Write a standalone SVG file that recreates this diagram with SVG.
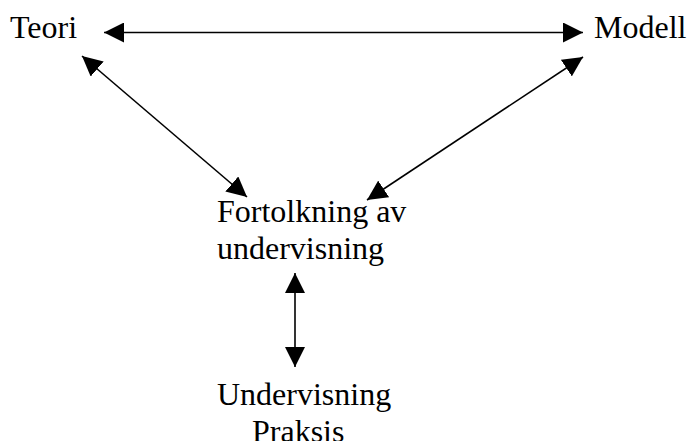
<svg xmlns="http://www.w3.org/2000/svg" width="688" height="441" viewBox="0 0 688 441">
<defs>
<marker id="ah" viewBox="0 0 20 20" refX="20" refY="10" markerWidth="20" markerHeight="20" markerUnits="userSpaceOnUse" orient="auto-start-reverse">
<path d="M0,0 L20,10 L0,20 z" fill="#000"/>
</marker>
<style>
text{font-family:"Liberation Serif","Times New Roman",serif;font-size:32px;fill:#000}
.c{stroke:#000;stroke-width:1.6;fill:none;marker-start:url(#ah);marker-end:url(#ah)}
</style>
</defs>
<rect width="688" height="441" fill="#fff"/>
<g id="teori"><text x="10" y="38">Teori</text></g>
<g id="modell"><text x="594" y="38">Modell</text></g>
<g id="fortolkning"><text x="217" y="222">Fortolkning av</text><text x="217" y="259">undervisning</text></g>
<g id="undervisning"><text x="217" y="405">Undervisning</text><text x="252" y="442">Praksis</text></g>
<g id="connectors">
<line class="c" x1="104" y1="32.5" x2="583" y2="32.5"/>
<line class="c" x1="82" y1="56" x2="247" y2="197"/>
<line class="c" x1="583" y1="57" x2="367" y2="200"/>
<line class="c" x1="295" y1="273" x2="295" y2="367"/>
</g>
</svg>
